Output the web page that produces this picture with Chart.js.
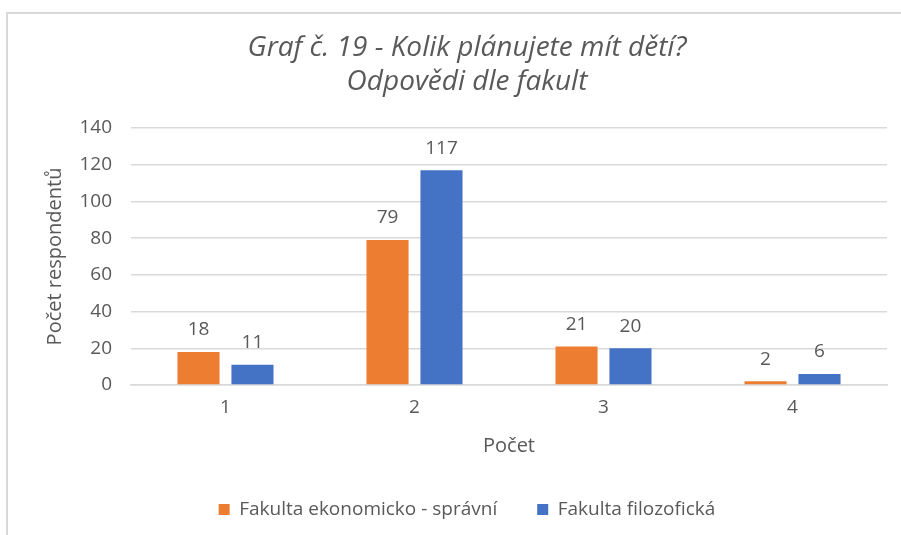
<!DOCTYPE html>
<html>
<head>
    <meta charset="UTF-8">
    <title>Graf č. 19</title>
    <script src="https://cdn.jsdelivr.net/npm/chart.js"></script>
    <style>
        html, body {
            margin: 0;
            padding: 0;
            overflow: hidden;
            background: #ffffff;
        }
        .frame {
            position: absolute;
            left: 6px;
            top: 12px;
            width: 918px;
            height: 560px;
            border-top: 2px solid #d9d9d9;
            border-left: 2px solid #d9d9d9;
        }
    </style>
</head>
<body>
    <div class="frame">
        <canvas id="chart" width="918" height="560"></canvas>
    </div>

    <script>
        // data
        const categories = ['1', '2', '3', '4'];
        const seriesNames = ['Fakulta ekonomicko - správní', 'Fakulta filozofická'];
        const ekonomicka = [18, 79, 21, 2];
        const filozoficka = [11, 117, 20, 6];
        const titleLines = ['Graf č. 19 - Kolik plánujete mít dětí?', 'Odpovědi dle fakult'];

        const textColor = '#595959';
        const gridColor = '#d9d9d9';
        const fontFamily = '"Open Sans", Lato, sans-serif';

        // popisky hodnot nad sloupci
        const valueLabels = {
            id: 'valueLabels',
            afterDatasetsDraw(chart) {
                const ctx = chart.ctx;
                ctx.save();
                ctx.font = '19px ' + fontFamily;
                ctx.fillStyle = textColor;
                ctx.textAlign = 'center';
                ctx.textBaseline = 'middle';
                chart.data.datasets.forEach((ds, i) => {
                    chart.getDatasetMeta(i).data.forEach((bar, j) => {
                        ctx.fillText(ds.data[j], bar.x, bar.y - 22);
                    });
                });
                ctx.restore();
            }
        };

        const ctx = document.getElementById('chart').getContext('2d');
        const chart = new Chart(ctx, {
            type: 'bar',
            data: {
                labels: categories,
                datasets: [{
                    label: seriesNames[0],
                    data: ekonomicka,
                    backgroundColor: '#ED7D31'
                }, {
                    label: seriesNames[1],
                    data: filozoficka,
                    backgroundColor: '#4472C4'
                }]
            },
            options: {
                responsive: false,
                animation: false,
                layout: {
                    padding: { left: 0, right: 0, top: 0, bottom: 45 }
                },
                datasets: {
                    bar: {
                        categoryPercentage: 0.571,
                        barPercentage: 0.78
                    }
                },
                plugins: {
                    title: {
                        display: true,
                        text: titleLines,
                        color: textColor,
                        font: { family: fontFamily, size: 28, style: 'italic', weight: 'normal', lineHeight: 1.214 },
                        padding: { top: 17, bottom: 29 }
                    },
                    legend: {
                        position: 'bottom',
                        labels: {
                            color: textColor,
                            font: { family: fontFamily, size: 19 },
                            boxWidth: 11,
                            boxHeight: 11,
                            padding: 40
                        }
                    },
                    tooltip: { enabled: false }
                },
                scales: {
                    x: {
                        grid: { display: false, drawTicks: false },
                        border: { display: true, color: gridColor, width: 1.5 },
                        ticks: {
                            color: textColor,
                            font: { family: fontFamily, size: 19 },
                            padding: 11.6
                        },
                        title: {
                            display: true,
                            text: 'Počet',
                            color: textColor,
                            font: { family: fontFamily, size: 20 },
                            padding: { top: 4, bottom: 2 }
                        },
                        afterFit(scale) { scale.height = 75; }
                    },
                    y: {
                        min: 0,
                        max: 140,
                        grid: { color: gridColor, lineWidth: 1.5, drawTicks: false },
                        border: { display: false },
                        ticks: {
                            stepSize: 20,
                            color: textColor,
                            font: { family: fontFamily, size: 19 },
                            padding: 19
                        },
                        title: {
                            display: true,
                            text: 'Počet respondentů',
                            color: textColor,
                            font: { family: fontFamily, size: 20 },
                            padding: { top: 35, bottom: 10 }
                        },
                        afterFit(scale) { scale.width = 123; }
                    },
                    // prázdný okraj vpravo, aby nadpis a legenda zůstaly na středu celého grafu
                    yRight: {
                        position: 'right',
                        min: 0,
                        max: 140,
                        grid: { display: false, drawTicks: false },
                        border: { display: false },
                        ticks: { display: false },
                        afterFit(scale) { scale.width = 39; }
                    }
                }
            },
            plugins: [valueLabels]
        });
    </script>
</body>
</html>
